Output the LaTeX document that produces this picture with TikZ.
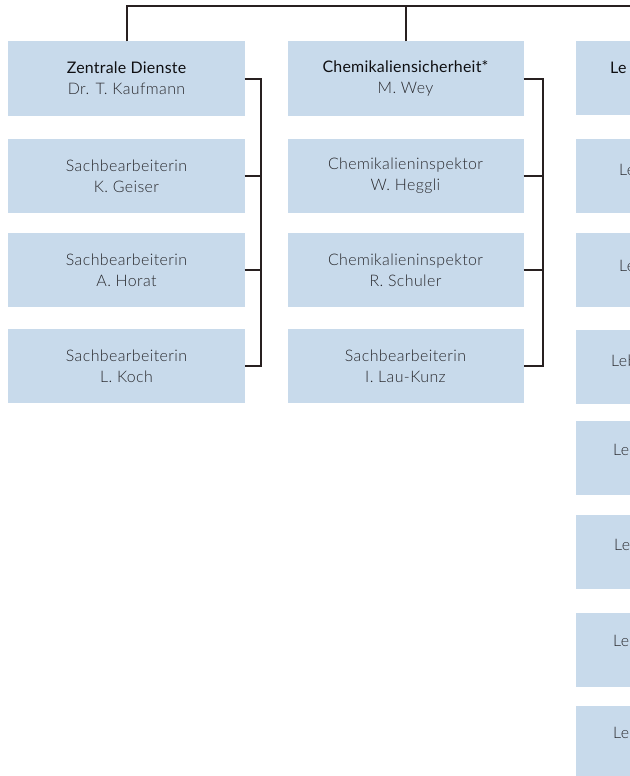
\documentclass[tikz,border=0pt]{standalone}
\usepackage{fontspec}
\setmainfont{Lato Light}[LetterSpace=2.5]
\newfontfamily\headf{Lato}[LetterSpace=1.5]
\definecolor{boxblue}{RGB}{200,218,235}
\definecolor{linecol}{RGB}{40,32,32}
\definecolor{txtgray}{RGB}{40,40,44}
\definecolor{txtdark}{RGB}{15,15,18}
\begin{document}
\begin{tikzpicture}[x=1bp,y=-1bp,
  box/.style={fill=boxblue, minimum width=236bp, minimum height=74bp, inner sep=0pt,
    align=center, text=txtgray, font=\fontsize{16}{21}\selectfont},
  frag/.style={anchor=base west, inner sep=0pt, text=txtgray, font=\fontsize{16}{21}\selectfont},
  conn/.style={draw=linecol, line width=2bp}]
\useasboundingbox (0,0) rectangle (630,776);
\clip (0,0) rectangle (630,776);
% column 1
\node[box] (b11) at (126.5,78.5) {\textcolor{txtdark}{\headf Zentrale Dienste}\\Dr. T. Kaufmann};
\node[box] (b12) at (126.5,176) {Sachbearbeiterin\\K. Geiser};
\node[box] (b13) at (126.5,270) {Sachbearbeiterin\\A. Horat};
\node[box] (b14) at (126.5,366) {Sachbearbeiterin\\L. Koch};
% column 2
\node[box] (b21) at (405.5,78.5) {\textcolor{txtdark}{\headf Chemikaliensicherheit*}\\M. Wey};
\node[box] (b22) at (405.5,176) {Chemikalieninspektor\\W. Heggli};
\node[box] (b23) at (405.5,270) {Chemikalieninspektor\\R. Schuler};
\node[box] (b24) at (405.5,366) {Sachbearbeiterin\\I. Lau-Kunz};
% column 3
\node[box] (c1) at (694,78) {};
\node[box] (c2) at (694,176) {};
\node[box] (c3) at (694,270) {};
\node[box] (c4) at (694,366.5) {};
\node[box] (c5) at (694,457.5) {};
\node[box] (c6) at (694,551.5) {};
\node[box] (c7) at (694,649.5) {};
\node[box] (c8) at (694,742.5) {};
\node[frag, text=txtdark, font=\headf\fontsize{16}{21}\selectfont] (t1) at (610,73.5) {Le};
\node[frag] (t2) at (619,175.5) {Le};
\node[frag] (t3) at (619,271.5) {Le};
\node[frag] (t4) at (611,366.5) {Leb};
\node[frag] (t5) at (613,455.5) {Leb};
\node[frag] (t6) at (614,550.5) {Le};
\node[frag] (t7) at (613,646.5) {Leb};
\node[frag] (t8) at (613,738.5) {Leb};
% top line
\coordinate (topR) at (640,6);
\draw[conn] (b11.north) |- (topR);
\draw[conn] (b21.north) -- (b21.north |- topR);
% column 1 bus
\coordinate (bus1) at (261,0);
\draw[conn] (b11.east) -- (b11.east -| bus1) -- (b14.east -| bus1) -- (b14.east);
\draw[conn] (b12.east) -- (b12.east -| bus1);
\draw[conn] (b13.east) -- (b13.east -| bus1);
% column 2 bus
\coordinate (bus2) at (543,0);
\draw[conn] (b21.east) -- (b21.east -| bus2) -- (b24.east -| bus2) -- (b24.east);
\draw[conn] (b22.east) -- (b22.east -| bus2);
\draw[conn] (b23.east) -- (b23.east -| bus2);
\end{tikzpicture}
\end{document}
